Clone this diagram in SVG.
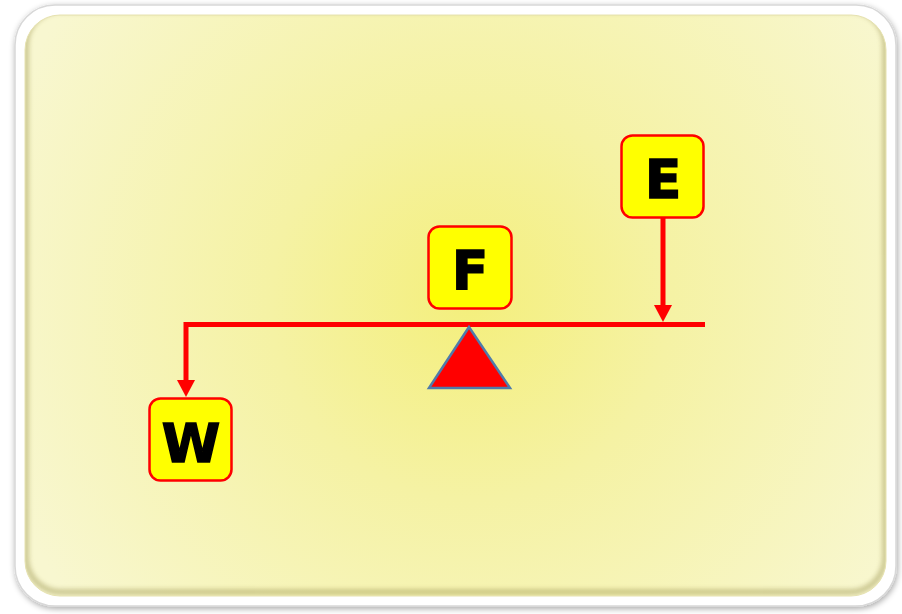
<svg xmlns="http://www.w3.org/2000/svg" width="902" height="614" viewBox="0 0 902 614">
<defs>
<radialGradient id="bg" cx="470" cy="300" r="500" gradientUnits="userSpaceOnUse">
<stop offset="0" stop-color="#f4ef7c"/>
<stop offset="0.4" stop-color="#f5f2a4"/>
<stop offset="1" stop-color="#f8f7d0"/>
</radialGradient>
<filter id="sh" x="-5%" y="-5%" width="110%" height="110%">
<feGaussianBlur in="SourceAlpha" stdDeviation="3"/>
<feOffset dx="1" dy="2"/>
<feComponentTransfer><feFuncA type="linear" slope="0.35"/></feComponentTransfer>
<feMerge><feMergeNode/><feMergeNode in="SourceGraphic"/></feMerge>
</filter>
<filter id="blur" x="-5%" y="-5%" width="110%" height="110%">
<feGaussianBlur stdDeviation="2.5"/>
</filter>
<clipPath id="inner">
<rect x="25" y="15" width="861" height="581" rx="35"/>
</clipPath>
<style>
.box{fill:#ffff00;stroke:#ff0000;stroke-width:2.5}
.lbl{font-family:"DejaVu Sans",Verdana,sans-serif;font-weight:bold;font-size:53px;fill:#000;stroke:#000;stroke-width:1.6;text-anchor:middle}
.ln{stroke:#ff0000;stroke-width:5;fill:none}
</style>
</defs>
<rect x="15" y="5" width="881" height="601" rx="40" fill="#ffffff" stroke="#d8d8d8" stroke-width="1.5" filter="url(#sh)"/>
<rect x="25" y="15" width="861" height="581" rx="35" fill="url(#bg)"/>
<g clip-path="url(#inner)">
<rect x="26" y="10" width="859" height="582" rx="35" fill="none" stroke="#9c9450" stroke-width="5" opacity="0.55" filter="url(#blur)"/>
</g>
<rect x="25" y="15" width="861" height="581" rx="35" fill="none" stroke="#e6e2b0" stroke-width="1"/>
<g id="connectors">
<line class="ln" x1="184" y1="324.5" x2="705" y2="324.5"/>
<path class="ln" d="M186,322 L186,380"/>
<path d="M177,380 L195,380 L186,397 Z" fill="#ff0000"/>
<path class="ln" d="M663,218 L663,305"/>
<path d="M654,305 L672,305 L663,322 Z" fill="#ff0000"/>
</g>
<g id="fulcrum">
<polygon points="469,327 429,388 510,388" fill="#ff0000" stroke="#4f7bab" stroke-width="2.5"/>
</g>
<g id="E">
<rect class="box" x="621.5" y="135.5" width="82" height="82" rx="11"/>
<text class="lbl" x="663" y="198">E</text>
</g>
<g id="F">
<rect class="box" x="428.5" y="226.5" width="83" height="82" rx="11"/>
<text class="lbl" x="470" y="289">F</text>
</g>
<g id="W">
<rect class="box" x="149.5" y="398.5" width="82" height="82" rx="11"/>
<text class="lbl" x="191" y="462">W</text>
</g>
</svg>
